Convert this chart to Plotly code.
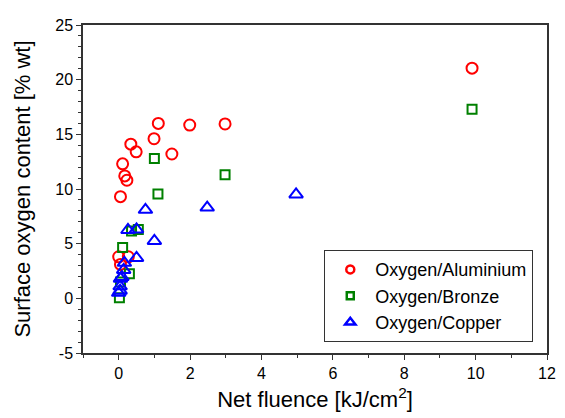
import plotly.graph_objects as go

al_x = [0.0, 0.05, 0.27, 0.05, 0.11, 0.17, 0.23, 0.34, 0.49, 0.99, 1.11, 1.49, 1.99, 2.98, 9.9]
al_y = [3.8, 3.1, 3.8, 9.3, 12.3, 11.2, 10.8, 14.1, 13.4, 14.6, 16.0, 13.2, 15.85, 15.95, 21.05]

br_x = [0.02, 0.05, 0.11, 0.30, 0.36, 0.55, 1.0, 1.1, 2.98, 9.9]
br_y = [0.05, 1.5, 4.65, 2.25, 6.15, 6.3, 12.8, 9.55, 11.3, 17.3]

cu_x = [0.0, 0.04, 0.04, 0.05, 0.09, 0.14, 0.16, 0.26, 0.5, 0.5, 0.75, 1.0, 2.48, 4.97]
cu_y = [0.5, 0.7, 1.1, 1.8, 1.95, 2.6, 3.25, 6.25, 6.3, 3.7, 8.1, 5.25, 8.3, 9.5]

y_ticks = [-5, 0, 5, 10, 15, 20, 25]
y_labels = ["-5", "0", "5", "10", "15", "20", "25"]
x_ticks = [0, 2, 4, 6, 8, 10, 12]
x_labels = ["0", "2", "4", "6", "8", "10", "12"]

names = ["Oxygen/Aluminium", "Oxygen/Bronze", "Oxygen/Copper"]
colors = ["#ff0000", "#008000", "#0000ff"]
symbols = ["circle-open", "square-open", "triangle-up-open"]
sizes = [11, 9, 12]
legend_sizes = [8, 7, 9]

font = "Liberation Sans"
fig = go.Figure()
for xs, ys, name, c, s, sz in zip([al_x, br_x, cu_x], [al_y, br_y, cu_y], names, colors, symbols, sizes):
    fig.add_trace(go.Scatter(x=xs, y=ys, mode="markers", name=name, showlegend=False,
                             marker=dict(symbol=s, size=sz, color=c, line=dict(width=2, color=c))))
for name, c, s, sz in zip(names, colors, symbols, legend_sizes):
    fig.add_trace(go.Scatter(x=[None], y=[None], mode="markers", name=name,
                             marker=dict(symbol=s, size=sz, color=c, line=dict(width=2.5, color=c))))

fig.update_layout(
    width=557, height=410,
    margin=dict(l=75, r=9, t=11, b=65),
    paper_bgcolor="white", plot_bgcolor="white",
    font=dict(family=font, color="#000000", size=16),
    xaxis=dict(range=[-1, 12], tickmode="array", tickvals=x_ticks, ticktext=x_labels,
               ticks="outside", ticklen=5, tickwidth=1.2, ticklabeloverflow="allow",
               tickcolor="#333", showline=True, linecolor="#333", linewidth=1.5, mirror=True,
               showgrid=False, zeroline=False,
               minor=dict(dtick=1, tick0=0, ticks="outside", ticklen=3, tickcolor="#333"),
               title=dict(text="Net fluence [kJ/cm<sup>2</sup>]", font=dict(size=22, family=font), standoff=11),
               tickfont=dict(size=16, family=font)),
    yaxis=dict(range=[-5, 25], tickmode="array", tickvals=y_ticks, ticktext=y_labels,
               ticks="outside", ticklen=5, tickwidth=1.2,
               tickcolor="#333", showline=True, linecolor="#333", linewidth=1.5, mirror=True,
               showgrid=False, zeroline=False,
               minor=dict(dtick=1, tick0=0, ticks="outside", ticklen=3, tickcolor="#333"),
               title=dict(text="Surface oxygen content [% wt]", font=dict(size=22, family=font), standoff=19),
               tickfont=dict(size=16, family=font)),
    legend=dict(x=0.52, y=0.033, xanchor="left", yanchor="bottom",
                bordercolor="#333", borderwidth=1, bgcolor="white",
                font=dict(size=18, family=font), tracegroupgap=0, itemwidth=40),
)
fig.write_html("out.html")
